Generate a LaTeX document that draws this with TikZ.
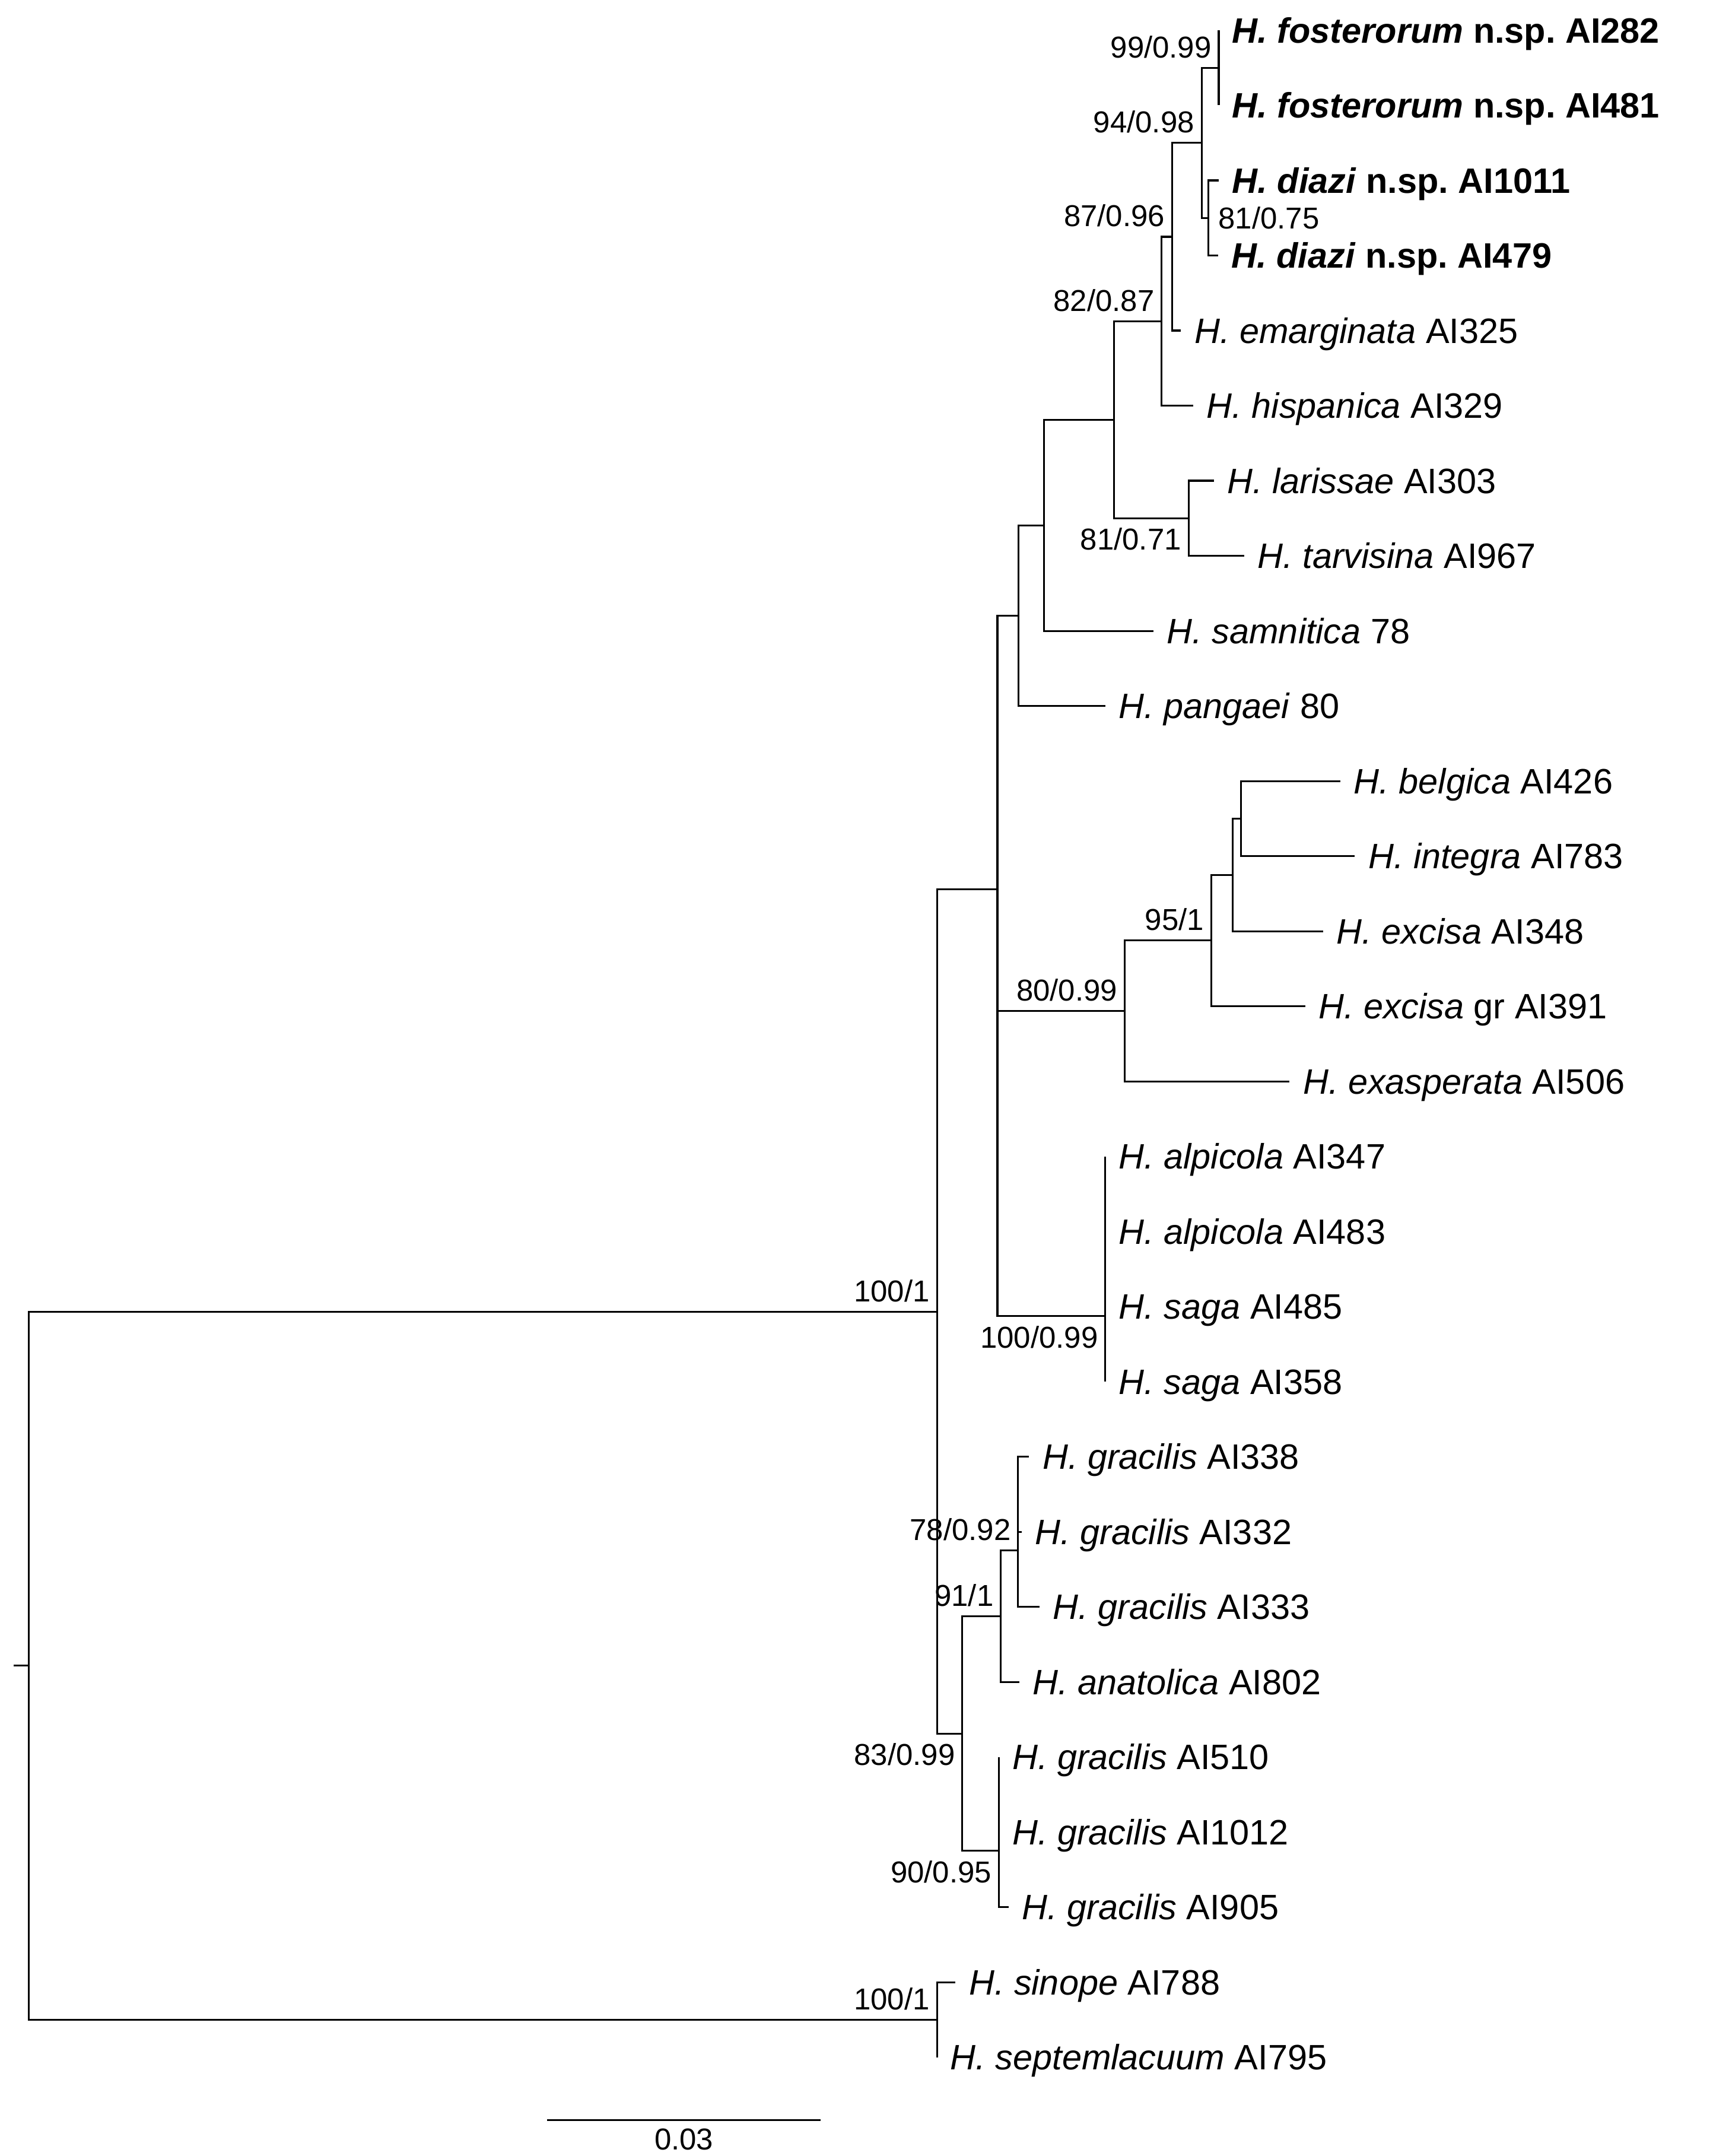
\documentclass[tikz,border=0pt]{standalone}
\usepackage{fontspec}
\setmainfont{Liberation Sans}
\usetikzlibrary{positioning}

\newcommand\taxsize{\fontsize{14.6pt}{17pt}\selectfont}
\newcommand\supsize{\fontsize{12.5pt}{14pt}\selectfont}
\newcommand\spname[2]{\textit{H. #1}~#2}
\newcommand\newsp[2]{\textbf{\textit{H. #1}~n.sp.~#2}}

\begin{document}
\frenchspacing
\begin{tikzpicture}[
  x=0.2mm, y=-0.2mm,
  branch/.style={line width=0.75pt},
  taxon/.style={inner sep=0pt, font=\taxsize, text height=10.4pt, text depth=0pt},
  support/.style={inner sep=0pt, font=\supsize, text height=9pt, text depth=0pt},
  supa/.style={support, anchor=south east, xshift=-1mm, yshift=1.4mm},
  supb/.style={support, anchor=north east, xshift=-1mm, yshift=-1.4mm},
  supr/.style={support, anchor=west, xshift=1.4mm},
  node distance=1.9mm
]
  \useasboundingbox (0,0) rectangle (1246,1568);

  % tip ends
  \coordinate (t1) at (886.5,22);
  \coordinate (t2) at (886.5,76.6);
  \coordinate (t3) at (886.5,131.2);
  \coordinate (t4) at (886,185.8);
  \coordinate (t5) at (859,240.4);
  \coordinate (t6) at (868,295);
  \coordinate (t7) at (883,349.6);
  \coordinate (t8) at (905,404.2);
  \coordinate (t9) at (839,458.8);
  \coordinate (t10) at (804,513.4);
  \coordinate (t11) at (975,568);
  \coordinate (t12) at (985.5,622.6);
  \coordinate (t13) at (962.5,677.2);
  \coordinate (t14) at (949.5,731.8);
  \coordinate (t15) at (938,786.4);
  \coordinate (t16) at (804,841);
  \coordinate (t17) at (804,895.6);
  \coordinate (t18) at (804,950.2);
  \coordinate (t19) at (804,1004.8);
  \coordinate (t20) at (748.5,1059.4);
  \coordinate (t21) at (743,1114);
  \coordinate (t22) at (756,1168.6);
  \coordinate (t23) at (741.5,1223.2);
  \coordinate (t24) at (726.5,1277.8);
  \coordinate (t25) at (726.5,1332.4);
  \coordinate (t26) at (733.5,1387);
  \coordinate (t27) at (695,1441.6);
  \coordinate (t28) at (681.5,1496.2);

  % inner nodes
  \coordinate (nF) at (886.5,49.3);
  \coordinate (nD) at (879,158.5);
  \coordinate (nFD) at (874,103.9);
  \coordinate (n87) at (852.5,172.2);
  \coordinate (n82) at (845,233.6);
  \coordinate (nLT) at (864.5,376.9);
  \coordinate (nLH) at (810.5,305.2);
  \coordinate (nS) at (759.5,382);
  \coordinate (nP) at (741,447.7);
  \coordinate (nEx4) at (902.5,595.3);
  \coordinate (nEx3) at (896.5,636.2);
  \coordinate (nEx2) at (881,684);
  \coordinate (nEx1) at (818,735.2);
  \coordinate (nAS) at (804,957);
  \coordinate (nY) at (725.5,846.1);
  \coordinate (nX) at (725.5,646.9);
  \coordinate (nG2) at (740.5,1127.7);
  \coordinate (nG3) at (728,1175.5);
  \coordinate (nG6) at (726.5,1346);
  \coordinate (nG7) at (700,1260.8);
  \coordinate (nA) at (681.5,953.9);
  \coordinate (nB) at (681.5,1468.9);
  \coordinate (root) at (21,1211.4);
  \coordinate (rstub) at (10,1211.4);

  \draw[branch] (rstub) -- (root);
  \draw[branch] (root) |- (nA);
  \draw[branch] (root) |- (nB);
  \draw[branch] (nA) |- (nX);
  \draw[branch] (nA) |- (nG7);
  \draw[branch] (nX) |- (nP);
  \draw[branch] (nX) |- (nY);
  \draw[branch] (nP) |- (nS);
  \draw[branch] (nP) |- (t10);
  \draw[branch] (nS) |- (nLH);
  \draw[branch] (nS) |- (t9);
  \draw[branch] (nLH) |- (n82);
  \draw[branch] (nLH) |- (nLT);
  \draw[branch] (nLT) |- (t7);
  \draw[branch] (nLT) |- (t8);
  \draw[branch] (n82) |- (n87);
  \draw[branch] (n82) |- (t6);
  \draw[branch] (n87) |- (nFD);
  \draw[branch] (n87) |- (t5);
  \draw[branch] (nFD) |- (nF);
  \draw[branch] (nFD) |- (nD);
  \draw[branch] (nF) |- (t1);
  \draw[branch] (nF) |- (t2);
  \draw[branch] (nD) |- (t3);
  \draw[branch] (nD) |- (t4);
  \draw[branch] (nY) |- (nEx1);
  \draw[branch] (nY) |- (nAS);
  \draw[branch] (nEx1) |- (nEx2);
  \draw[branch] (nEx1) |- (t15);
  \draw[branch] (nEx2) |- (nEx3);
  \draw[branch] (nEx2) |- (t14);
  \draw[branch] (nEx3) |- (nEx4);
  \draw[branch] (nEx3) |- (t13);
  \draw[branch] (nEx4) |- (t11);
  \draw[branch] (nEx4) |- (t12);
  \draw[branch] (nAS) |- (t16);
  \draw[branch] (nAS) |- (t17);
  \draw[branch] (nAS) |- (t18);
  \draw[branch] (nAS) |- (t19);
  \draw[branch] (nG7) |- (nG3);
  \draw[branch] (nG7) |- (nG6);
  \draw[branch] (nG3) |- (nG2);
  \draw[branch] (nG3) |- (t23);
  \draw[branch] (nG2) |- (t20);
  \draw[branch] (nG2) |- (t21);
  \draw[branch] (nG2) |- (t22);
  \draw[branch] (nG6) |- (t24);
  \draw[branch] (nG6) |- (t25);
  \draw[branch] (nG6) |- (t26);
  \draw[branch] (nB) |- (t27);
  \draw[branch] (nB) |- (t28);

  % taxon labels
  \node[taxon, right=of t1] (l1) {\newsp{fosterorum}{AI282}};
  \node[taxon, right=of t2] (l2) {\newsp{fosterorum}{AI481}};
  \node[taxon, right=of t3] (l3) {\newsp{diazi}{AI1011}};
  \node[taxon, right=of t4] (l4) {\newsp{diazi}{AI479}};
  \node[taxon, right=of t5] (l5) {\spname{emarginata}{AI325}};
  \node[taxon, right=of t6] (l6) {\spname{hispanica}{AI329}};
  \node[taxon, right=of t7] (l7) {\spname{larissae}{AI303}};
  \node[taxon, right=of t8] (l8) {\spname{tarvisina}{AI967}};
  \node[taxon, right=of t9] (l9) {\spname{samnitica}{78}};
  \node[taxon, right=of t10] (l10) {\spname{pangaei}{80}};
  \node[taxon, right=of t11] (l11) {\spname{belgica}{AI426}};
  \node[taxon, right=of t12] (l12) {\spname{integra}{AI783}};
  \node[taxon, right=of t13] (l13) {\spname{excisa}{AI348}};
  \node[taxon, right=of t14] (l14) {\spname{excisa}{gr AI391}};
  \node[taxon, right=of t15] (l15) {\spname{exasperata}{AI506}};
  \node[taxon, right=of t16] (l16) {\spname{alpicola}{AI347}};
  \node[taxon, right=of t17] (l17) {\spname{alpicola}{AI483}};
  \node[taxon, right=of t18] (l18) {\spname{saga}{AI485}};
  \node[taxon, right=of t19] (l19) {\spname{saga}{AI358}};
  \node[taxon, right=of t20] (l20) {\spname{gracilis}{AI338}};
  \node[taxon, right=of t21] (l21) {\spname{gracilis}{AI332}};
  \node[taxon, right=of t22] (l22) {\spname{gracilis}{AI333}};
  \node[taxon, right=of t23] (l23) {\spname{anatolica}{AI802}};
  \node[taxon, right=of t24] (l24) {\spname{gracilis}{AI510}};
  \node[taxon, right=of t25] (l25) {\spname{gracilis}{AI1012}};
  \node[taxon, right=of t26] (l26) {\spname{gracilis}{AI905}};
  \node[taxon, right=of t27] (l27) {\spname{sinope}{AI788}};
  \node[taxon, right=of t28] (l28) {\spname{septemlacuum}{AI795}};

  % support values
  \node[supa] (s99) at (nF) {99/0.99};
  \node[supa] (s94) at (nFD) {94/0.98};
  \node[supr] (s81a) at (nD) {81/0.75};
  \node[supa] (s87) at (n87) {87/0.96};
  \node[supa] (s82) at (n82) {82/0.87};
  \node[supb] (s81b) at (nLT) {81/0.71};
  \node[supa] (s95) at (nEx2) {95/1};
  \node[supa] (s80) at (nEx1) {80/0.99};
  \node[supa] (s100a) at (nA) {100/1};
  \node[supb] (s100b) at (nAS) {100/0.99};
  \node[supa] (s78) at (nG2) {78/0.92};
  \node[supa] (s91) at (nG3) {91/1};
  \node[supb] (s83) at (nG7) {83/0.99};
  \node[supb] (s90) at (nG6) {90/0.95};
  \node[supa] (s100c) at (nB) {100/1};

  % scale bar
  \coordinate (sbl) at (398,1542);
  \coordinate (sbr) at (597,1542);
  \draw[branch] (sbl) -- (sbr) node[support, midway, below=1mm] (sblab) {0.03};
\end{tikzpicture}
\end{document}
